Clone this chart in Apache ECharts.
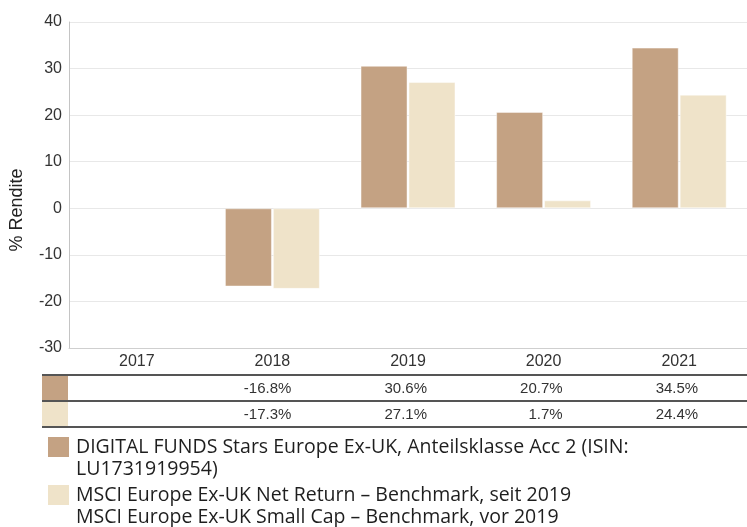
<!DOCTYPE html>
<html>
<head>
<meta charset="utf-8">
<script src="https://cdn.jsdelivr.net/npm/echarts@6/dist/echarts.min.js"></script>
<style>
html,body{margin:0;padding:0;background:#fff;}
#chart{width:747px;height:527px;}
</style>
</head>
<body>
<div id="chart"></div>
<script>
const categories = ['2017', '2018', '2019', '2020', '2021'];
const fundValues = [null, -16.8, 30.6, 20.7, 34.5];
const benchValues = [null, -17.3, 27.1, 1.7, 24.4];
const seriesNames = [
  'DIGITAL FUNDS Stars Europe Ex-UK, Anteilsklasse Acc 2 (ISIN: LU1731919954)',
  'MSCI Europe Ex-UK Net Return – Benchmark, seit 2019 / MSCI Europe Ex-UK Small Cap – Benchmark, vor 2019'
];
const legendLines = [
  ['DIGITAL FUNDS Stars Europe Ex-UK, Anteilsklasse Acc 2 (ISIN:', 'LU1731919954)'],
  ['MSCI Europe Ex-UK Net Return – Benchmark, seit 2019', 'MSCI Europe Ex-UK Small Cap – Benchmark, vor 2019']
];
const yTicks = { min: -30, max: 40, interval: 10 };
const yAxisName = '% Rendite';

const colors = ['#c4a283', '#efe3c9'];
const fmt = v => (v === null || v === undefined) ? '' : v.toFixed(1) + '%';
const axisFont = 'Liberation Sans, Arial';

const chart = echarts.init(document.getElementById('chart'), null, { renderer: 'canvas' });

function rowAxis(values, offset) {
  return {
    type: 'category', data: categories, gridIndex: 0, position: 'bottom', offset: offset,
    axisLine: { show: false }, axisTick: { show: false }, splitLine: { show: false },
    axisLabel: {
      interval: 0, margin: 6, color: '#333', fontFamily: axisFont, fontSize: 15,
      formatter: (v, i) => values[i] === null ? '' : '{v|' + fmt(values[i]) + '}',
      rich: { v: { width: 38, align: 'right', fontFamily: axisFont, fontSize: 15, color: '#333' } }
    }
  };
}

const legendGraphics = [];
const legendTop = [437, 485];
legendLines.forEach((lines, k) => {
  legendGraphics.push({ type: 'rect', shape: { x: 48, y: legendTop[k], width: 21, height: 20 }, style: { fill: colors[k] } });
  lines.forEach((t, j) => {
    legendGraphics.push({ type: 'text', x: 76, y: legendTop[k] + 10 + j * 22,
      style: { text: t, fill: '#1e1e1e', font: '19.5px "Open Sans"', textVerticalAlign: 'middle', textAlign: 'left' } });
  });
});

const tableGraphics = [
  { type: 'line', shape: { x1: 42, y1: 375, x2: 747, y2: 375 }, style: { stroke: '#555', lineWidth: 2 } },
  { type: 'line', shape: { x1: 42, y1: 401, x2: 747, y2: 401 }, style: { stroke: '#555', lineWidth: 2 } },
  { type: 'line', shape: { x1: 42, y1: 427, x2: 747, y2: 427 }, style: { stroke: '#555', lineWidth: 2 } },
  { type: 'rect', shape: { x: 42, y: 376, width: 26, height: 24 }, style: { fill: colors[0] } },
  { type: 'rect', shape: { x: 42, y: 402, width: 26, height: 24 }, style: { fill: colors[1] } }
];

chart.setOption({
  animation: false,
  backgroundColor: '#fff',
  grid: { left: 69, top: 22, width: 681, height: 326 },
  xAxis: [
    {
      type: 'category', data: categories, position: 'bottom',
      axisLine: { onZero: false, lineStyle: { color: '#cfcfcf' } },
      axisTick: { show: false },
      axisLabel: { interval: 0, margin: 6, color: '#333', fontFamily: axisFont, fontSize: 16 }
    },
    rowAxis(fundValues, 27),
    rowAxis(benchValues, 53)
  ],
  yAxis: {
    type: 'value', min: yTicks.min, max: yTicks.max, interval: yTicks.interval,
    name: yAxisName, nameLocation: 'middle', nameGap: 43, nameRotate: 90,
    nameTextStyle: { color: '#222', fontFamily: axisFont, fontSize: 18, padding: [0, 50, 0, 0] },
    axisLine: { show: true, lineStyle: { color: '#c4c4c4' } },
    axisTick: { show: false },
    axisLabel: { color: '#333', fontFamily: axisFont, fontSize: 16, margin: 7 },
    splitLine: { lineStyle: { color: '#e8e8e8' } }
  },
  series: [
    { name: seriesNames[0], type: 'bar', data: fundValues, barWidth: 47, barGap: '2%',
      itemStyle: { color: colors[0], borderColor: 'rgba(255,255,255,0.45)', borderWidth: 1 } },
    { name: seriesNames[1], type: 'bar', data: benchValues, barWidth: 47,
      itemStyle: { color: colors[1], borderColor: 'rgba(255,255,255,0.45)', borderWidth: 1 } }
  ],
  graphic: tableGraphics.concat(legendGraphics)
});
</script>
</body>
</html>
